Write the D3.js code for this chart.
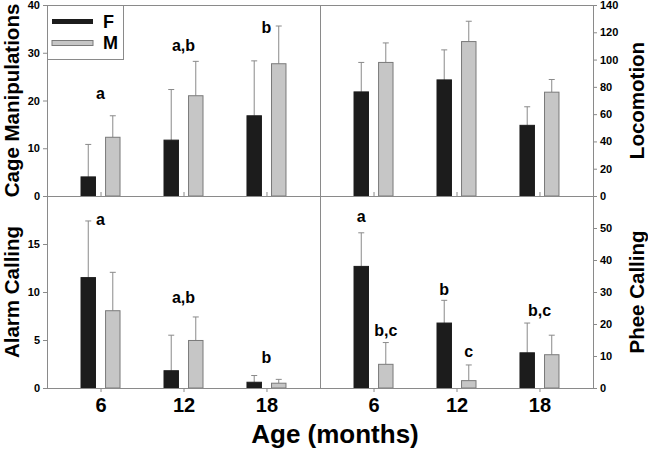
<!DOCTYPE html>
<html><head><meta charset="utf-8">
<script src="https://cdn.jsdelivr.net/npm/d3@7"></script>
<style>
body{margin:0;background:#fff;}
svg text{font-family:"Liberation Sans",Arial,Helvetica,sans-serif;font-weight:bold;fill:#000;}
</style></head>
<body><svg id="c" width="648" height="450"></svg>
<script>
// ---- data ----
const ages = ["6", "12", "18"];
const sexes = ["F", "M"];

const cageF = [4.0, 11.7, 16.8];
const cageFSE = [6.8, 10.6, 11.5];
const cageM = [12.3, 21.0, 27.7];
const cageMSE = [4.5, 7.2, 7.9];

const locoF = [76.3, 85.1, 51.8];
const locoFSE = [21.6, 22.0, 13.6];
const locoM = [97.9, 113.2, 76.1];
const locoMSE = [14.3, 14.9, 9.3];

const alarmF = [11.5, 1.8, 0.6];
const alarmFSE = [5.9, 3.7, 0.7];
const alarmM = [8.05, 4.95, 0.5];
const alarmMSE = [4.0, 2.45, 0.4];

const pheeF = [38.0, 20.3, 11.0];
const pheeFSE = [10.5, 7.1, 9.3];
const pheeM = [7.4, 2.3, 10.4];
const pheeMSE = [6.8, 4.9, 6.1];

const cageTicks = [0, 10, 20, 30, 40];
const locoTicks = [0, 20, 40, 60, 80, 100, 120, 140];
const alarmTicks = [0, 5, 10, 15];
const pheeTicks = [0, 10, 20, 30, 40, 50];

// significance letters: age, sex (null = group centre), text, value level
const cageLetters = [["6", null, "a", 20.3], ["12", null, "a,b", 30.3], ["18", null, "b", 34.2]];
const locoLetters = [];
const alarmLetters = [["6", null, "a", 17.0], ["12", null, "a,b", 8.9], ["18", null, "b", 2.6]];
const pheeLetters = [["6", "F", "a", 52.0], ["6", "M", "b,c", 16.3], ["12", "F", "b", 29.2], ["12", "M", "c", 9.7], ["18", null, "b,c", 22.5]];

// ---- layout ----
const svg = d3.select("#c");
const X0 = 47, XM = 320, X1 = 593;
const YT = 5, YM = 196, YB = 388;
const frame = "#8a8a8a";

const panels = [
  {name: "Cage Manipulations", xr: [X0, XM], yr: [YM, YT], dom: [0, 40], ticks: cageTicks, side: "left", F: cageF, FSE: cageFSE, M: cageM, MSE: cageMSE, letters: cageLetters, top: true},
  {name: "Locomotion", xr: [XM, X1], yr: [YM, YT], dom: [0, 140], ticks: locoTicks, side: "right", F: locoF, FSE: locoFSE, M: locoM, MSE: locoMSE, letters: locoLetters, top: true},
  {name: "Alarm Calling", xr: [X0, XM], yr: [YB, YM], dom: [0, 20], ticks: alarmTicks, side: "left", F: alarmF, FSE: alarmFSE, M: alarmM, MSE: alarmMSE, letters: alarmLetters, top: false},
  {name: "Phee Calling", xr: [XM, X1], yr: [YB, YM], dom: [0, 60], ticks: pheeTicks, side: "right", F: pheeF, FSE: pheeFSE, M: pheeM, MSE: pheeMSE, letters: pheeLetters, top: false}
];

const xIn = d3.scaleBand().domain(sexes).range([-20, 20]).paddingInner(0.37);
const fill = {F: "#1c1c1c", M: "#c6c6c6"};
const stroke = {F: "#1c1c1c", M: "#7a7a7a"};

panels.forEach(p => {
  const x = d3.scalePoint().domain(ages).range(p.xr).padding(0.645);
  const y = d3.scaleLinear().domain(p.dom).range(p.yr);
  const g = svg.append("g");

  // bars + error bars
  const rows = [];
  ages.forEach((a, i) => {
    rows.push({age: a, sex: "F", v: p.F[i], se: p.FSE[i]});
    rows.push({age: a, sex: "M", v: p.M[i], se: p.MSE[i]});
  });
  const cx = d => x(d.age) + xIn(d.sex) + xIn.bandwidth() / 2;
  g.selectAll(".eb").data(rows).join("line")
    .attr("x1", cx).attr("x2", cx)
    .attr("y1", d => y(d.v)).attr("y2", d => y(d.v + d.se))
    .attr("stroke", "#8a8a8a").attr("stroke-width", 1);
  g.selectAll(".cap").data(rows).join("line")
    .attr("x1", d => cx(d) - 3).attr("x2", d => cx(d) + 3)
    .attr("y1", d => y(d.v + d.se)).attr("y2", d => y(d.v + d.se))
    .attr("stroke", "#8a8a8a").attr("stroke-width", 1);
  g.selectAll(".bar").data(rows).join("rect")
    .attr("x", d => x(d.age) + xIn(d.sex) + 0.5)
    .attr("width", xIn.bandwidth() - 1)
    .attr("y", d => y(d.v))
    .attr("height", d => y(0) - y(d.v))
    .attr("fill", d => fill[d.sex]).attr("stroke", d => stroke[d.sex]).attr("stroke-width", 1);

  // letters
  g.selectAll(".lt").data(p.letters).join("text")
    .attr("x", d => d[1] ? x(d[0]) + xIn(d[1]) + xIn.bandwidth() / 2 : x(d[0]))
    .attr("y", d => y(d[3]))
    .attr("text-anchor", "middle").attr("font-size", 16)
    .text(d => d[2]);

  // y axis
  const ax = p.side === "left" ? d3.axisLeft(y) : d3.axisRight(y);
  ax.tickValues(p.ticks).tickSize(4).tickPadding(3).tickFormat(d3.format("d"));
  const ag = g.append("g").attr("transform", `translate(${p.side === "left" ? X0 : X1},0)`).call(ax);
  ag.select(".domain").remove();
  ag.selectAll(".tick line").attr("stroke", frame);
  ag.selectAll(".tick text").attr("font-size", 11).attr("font-family", "Liberation Sans, Arial, sans-serif").attr("font-weight", "bold");

  // x ticks
  const xa = p.top ? d3.axisTop(x) : d3.axisBottom(x);
  xa.tickSize(4).tickFormat("");
  const xg = g.append("g").attr("transform", `translate(0,${p.top ? YM : YB})`).call(xa);
  xg.select(".domain").remove();
  xg.selectAll(".tick line").attr("stroke", frame);
  if (!p.top) {
    xg.selectAll(".tick").append("text")
      .attr("y", 23.5).attr("text-anchor", "middle").attr("font-size", 20)
      .text(d => d);
  }

  // axis title
  const tx = p.side === "left" ? 19 : 644;
  const ty = (p.yr[0] + p.yr[1]) / 2;
  svg.append("text").attr("transform", `translate(${tx},${ty}) rotate(-90)`)
    .attr("text-anchor", "middle").attr("font-size", 20.5).text(p.name);
});

// frame lines
const fr = svg.append("g").attr("stroke", frame).attr("stroke-width", 1).attr("fill", "none");
fr.append("line").attr("x1", X0).attr("x2", X1).attr("y1", YT + 0.5).attr("y2", YT + 0.5);
fr.append("line").attr("x1", X0).attr("x2", X1).attr("y1", YM + 0.5).attr("y2", YM + 0.5);
fr.append("line").attr("x1", X0).attr("x2", X1).attr("y1", YB + 0.5).attr("y2", YB + 0.5);
fr.append("line").attr("x1", X0 + 0.5).attr("x2", X0 + 0.5).attr("y1", YT).attr("y2", YB);
fr.append("line").attr("x1", XM + 0.5).attr("x2", XM + 0.5).attr("y1", YT).attr("y2", YB);
fr.append("line").attr("x1", X1 + 0.5).attr("x2", X1 + 0.5).attr("y1", YT).attr("y2", YB);

// legend
const lg = svg.append("g");
lg.append("rect").attr("x", X0 + 0.5).attr("y", YT + 0.5).attr("width", 76).attr("height", 54)
  .attr("fill", "#fff").attr("stroke", frame);
sexes.forEach((s, i) => {
  lg.append("rect").attr("x", 52).attr("y", 19 + i * 21.5).attr("width", 41).attr("height", 5)
    .attr("fill", fill[s]).attr("stroke", stroke[s]).attr("stroke-width", s === "M" ? 1 : 0);
  lg.append("text").attr("x", 103).attr("y", 28 + i * 21.3).attr("font-size", 18).text(s);
});

// x title
svg.append("text").attr("x", 335).attr("y", 443).attr("text-anchor", "middle")
  .attr("font-size", 26).text("Age (months)");
</script></body></html>
